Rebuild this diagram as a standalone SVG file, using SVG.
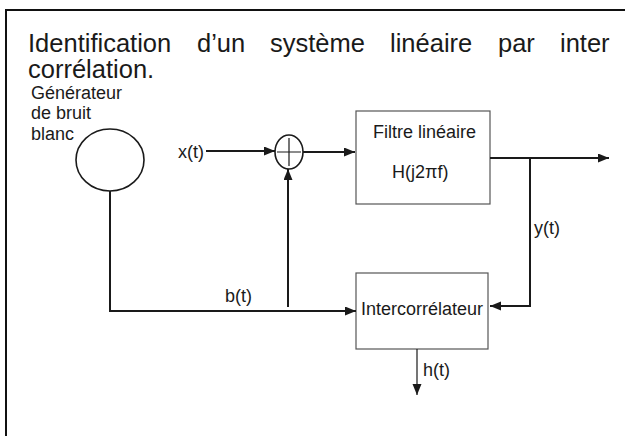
<svg xmlns="http://www.w3.org/2000/svg" width="625" height="436" viewBox="0 0 625 436">
<style>
text{font-family:"Liberation Sans",Arial,sans-serif;fill:#1a1a1a}
.t{font-size:25.5px}
.l{font-size:18px}
.box{fill:#fff;stroke:#555;stroke-width:1.2}
.c{fill:none;stroke:#1a1a1a;stroke-width:1.6}
.w{fill:none;stroke:#1a1a1a;stroke-width:2}
.thin{fill:none;stroke:#1a1a1a;stroke-width:1.2}
</style>
<defs>
<marker id="ah" markerUnits="userSpaceOnUse" markerWidth="12" markerHeight="10" refX="11" refY="4.5" orient="auto">
<path d="M0,0 L11,4.5 L0,9 z" fill="#1a1a1a"/>
</marker>
</defs>
<rect x="6" y="10" width="630" height="440" fill="none" stroke="#111" stroke-width="2"/>
<g id="title">
<text class="t" x="28" y="52">Identification</text>
<text class="t" x="197" y="52">d’un</text>
<text class="t" x="270" y="52">système</text>
<text class="t" x="390" y="52">linéaire</text>
<text class="t" x="498" y="52">par</text>
<text class="t" x="560" y="52">inter</text>
<text class="t" x="28" y="78">corrélation.</text>
</g>
<g id="generator">
<ellipse class="c" cx="110" cy="160" rx="34" ry="31"/>
<text class="l" x="31" y="99">Générateur</text>
<text class="l" x="31" y="119">de bruit</text>
<text class="l" x="31" y="140">blanc</text>
</g>
<g id="adder">
<ellipse class="c" cx="289" cy="152" rx="14" ry="17"/>
<path class="thin" d="M277,152 H301 M289,138 V166"/>
</g>
<g id="filter">
<rect class="box" x="356" y="111" width="134" height="93"/>
<text class="l" x="373" y="138">Filtre linéaire</text>
<text class="l" x="392" y="178">H(j2πf)</text>
</g>
<g id="intercorrelateur">
<rect class="box" x="356" y="273" width="132" height="76"/>
<text class="l" x="361" y="315">Intercorrélateur</text>
</g>
<g id="connectors">
<path class="w" d="M206,151 H275" marker-end="url(#ah)"/>
<path class="w" d="M303,152 H355" marker-end="url(#ah)"/>
<path class="w" d="M490,158 H609" marker-end="url(#ah)"/>
<path class="w" d="M530,158 V306 H490" marker-end="url(#ah)"/>
<path class="w" d="M110,191 V311 H356" marker-end="url(#ah)"/>
<path class="w" d="M288,307 V169" marker-end="url(#ah)"/>
<path class="thin" d="M417,349 V395" marker-end="url(#ah)"/>
</g>
<g id="labels">
<text class="l" x="178" y="158">x(t)</text>
<text class="l" x="534" y="234">y(t)</text>
<text class="l" x="225" y="302">b(t)</text>
<text class="l" x="423" y="376">h(t)</text>
</g>
</svg>
